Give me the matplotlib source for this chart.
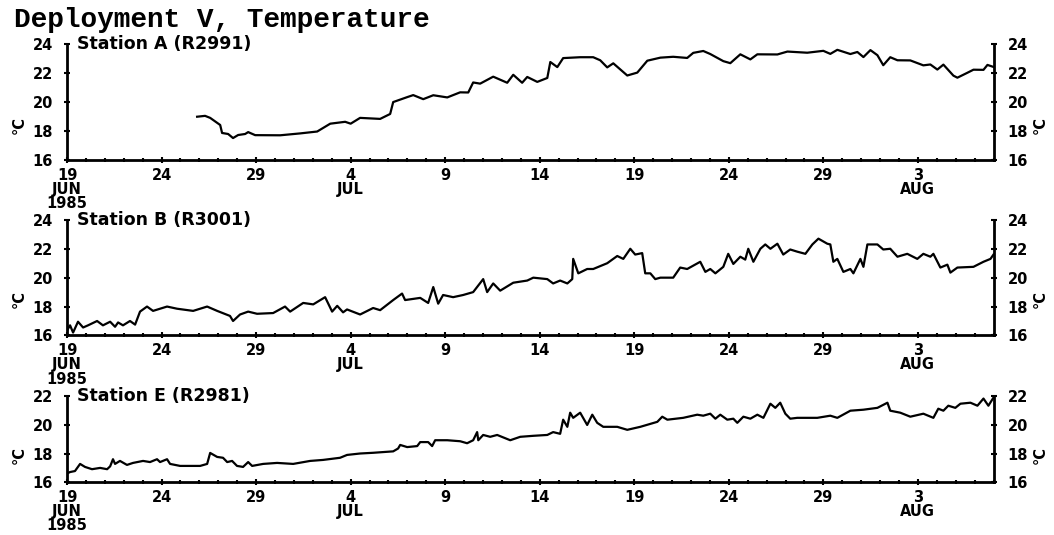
import matplotlib.pyplot as plt
from matplotlib.ticker import MultipleLocator

# days since 19 JUN 1985
days_a = [6.88, 7.30, 7.57, 8.10, 8.20, 8.52, 8.78, 9.05, 9.42, 9.58, 9.95, 11.27, 12.33, 13.23,
          13.92, 14.71, 15.00, 15.50, 16.56, 17.09, 17.25, 17.99, 18.31, 18.84, 19.37, 20.11,
          20.79, 21.22, 21.48, 21.85, 22.54, 23.28, 23.60, 24.07, 24.34, 24.87, 25.40, 25.56,
          25.93, 26.24, 27.14, 27.83, 28.20, 28.57, 28.89, 29.63, 30.16, 30.69, 31.38, 32.06,
          32.80, 33.12, 33.65, 34.02, 34.71, 35.08, 35.61, 36.14, 36.51, 37.57, 38.10, 39.15,
          40.00, 40.37, 40.74, 41.43, 41.80, 42.12, 42.49, 42.86, 43.17, 43.54, 43.92, 44.60,
          45.29, 45.66, 46.03, 46.35, 46.88, 47.09, 47.62, 47.94, 48.47, 48.68, 49.0]
temp_a = [18.98, 19.04, 18.90, 18.41, 17.86, 17.79, 17.51, 17.72, 17.79, 17.92, 17.71, 17.70, 17.83, 17.96,
          18.50, 18.63, 18.50, 18.90, 18.83, 19.17, 19.99, 20.33, 20.47, 20.19, 20.46, 20.31,
          20.66, 20.65, 21.34, 21.26, 21.74, 21.32, 21.87, 21.32, 21.72, 21.38, 21.65, 22.75,
          22.40, 23.02, 23.08, 23.08, 22.87, 22.38, 22.66, 21.82, 22.02, 22.84, 23.05, 23.11,
          23.03, 23.38, 23.51, 23.30, 22.81, 22.67, 23.28, 22.93, 23.28, 23.27, 23.47, 23.39,
          23.52, 23.31, 23.59, 23.30, 23.44, 23.09, 23.57, 23.22, 22.53, 23.08, 22.87, 22.86,
          22.52, 22.58, 22.23, 22.57, 21.81, 21.67, 22.01, 22.22, 22.21, 22.55, 22.41]

days_b = [0.0, 0.16, 0.32, 0.58, 0.85, 1.11, 1.59, 1.90, 2.28, 2.54, 2.70, 2.96, 3.33, 3.60, 3.86,
          4.23, 4.55, 5.29, 5.82, 6.67, 7.41, 7.94, 8.62, 8.78, 9.15, 9.58, 10.05, 10.90, 11.53,
          11.80, 12.49, 13.02, 13.65, 14.02, 14.29, 14.60, 14.81, 15.50, 16.19, 16.56, 17.25,
          17.72, 17.88, 18.68, 19.10, 19.37, 19.63, 19.89, 20.42, 20.95, 21.48, 22.01, 22.22,
          22.54, 22.91, 23.60, 24.34, 24.66, 25.40, 25.71, 26.08, 26.46, 26.72, 26.77, 27.04,
          27.51, 27.83, 28.57, 29.10, 29.42, 29.79, 30.05, 30.42, 30.58, 30.85, 31.11, 31.38,
          32.06, 32.43, 32.80, 33.49, 33.76, 34.02, 34.29, 34.71, 34.97, 35.24, 35.61, 35.87,
          36.03, 36.30, 36.67, 36.93, 37.20, 37.57, 37.88, 38.25, 38.62, 39.05, 39.42, 39.74,
          40.21, 40.37, 40.53, 40.74, 41.06, 41.43, 41.59, 41.96, 42.12, 42.33, 42.86, 43.17,
          43.54, 43.92, 44.44, 44.97, 45.29, 45.66, 45.82, 46.19, 46.56, 46.72, 47.09, 47.94,
          48.47, 48.84, 49.0]
temp_b = [16.34, 16.7, 16.2, 16.95, 16.55, 16.7, 17.0, 16.7, 16.95, 16.6, 16.9, 16.7, 17.0, 16.75, 17.65,
          18.0, 17.7, 18.0, 17.85, 17.7, 18.0, 17.7, 17.35, 17.0, 17.45, 17.65, 17.5, 17.55, 18.0,
          17.65, 18.25, 18.15, 18.65, 17.65, 18.05, 17.6, 17.8, 17.45, 17.9, 17.75, 18.45,
          18.9, 18.45, 18.6, 18.25, 19.35, 18.2, 18.8, 18.65, 18.8, 19.0, 19.9, 19.0,
          19.6, 19.1, 19.65, 19.8, 20.0, 19.9, 19.6, 19.8, 19.6, 19.9, 21.3, 20.3,
          20.6, 20.6, 21.0, 21.5, 21.3, 22.0, 21.6, 21.7, 20.3, 20.3, 19.9, 20.0,
          20.0, 20.7, 20.6, 21.1, 20.4, 20.6, 20.3, 20.75, 21.65, 20.95, 21.45, 21.25,
          22.0, 21.1, 22.0, 22.3, 22.0, 22.35, 21.6, 21.95, 21.8, 21.65, 22.3, 22.7,
          22.35, 22.3, 21.1, 21.3, 20.4, 20.6, 20.3, 21.3, 20.75, 22.3, 22.3, 21.95,
          22.0, 21.45, 21.65, 21.3, 21.65, 21.45, 21.65, 20.7, 20.9, 20.35, 20.7, 20.75,
          21.1, 21.3, 21.6]

days_e = [0.0, 0.16, 0.42, 0.69, 0.95, 1.32, 1.75, 2.12, 2.28, 2.43, 2.54, 2.80, 3.17, 3.49, 4.02,
          4.39, 4.76, 4.92, 5.29, 5.45, 5.98, 7.04, 7.41, 7.57, 7.94, 8.25, 8.47, 8.73, 8.99,
          9.31, 9.58, 9.79, 10.37, 11.11, 11.96, 12.86, 13.54, 14.44, 14.81, 15.50, 16.19,
          17.25, 17.51, 17.62, 17.99, 18.52, 18.68, 19.10, 19.31, 19.47, 20.11, 20.79, 21.16,
          21.48, 21.69, 21.75, 22.01, 22.38, 22.75, 23.44, 23.97, 24.66, 25.40, 25.71, 26.08,
          26.24, 26.46, 26.61, 26.77, 27.14, 27.51, 27.78, 28.04, 28.36, 29.10, 29.63, 30.32,
          31.22, 31.48, 31.75, 32.59, 33.33, 33.65, 34.02, 34.29, 34.55, 34.92, 35.24, 35.45,
          35.77, 36.14, 36.51, 36.83, 37.20, 37.46, 37.72, 37.99, 38.25, 38.62, 39.68, 40.37,
          40.74, 41.43, 42.12, 42.86, 43.39, 43.54, 44.07, 44.60, 45.29, 45.82, 46.08, 46.35,
          46.61, 46.98, 47.25, 47.78, 48.15, 48.47, 48.73, 49.0]
temp_e = [16.6, 16.7, 16.77, 17.27, 17.06, 16.9, 16.99, 16.9, 17.1, 17.6, 17.27, 17.48, 17.2, 17.34, 17.48,
          17.4, 17.6, 17.4, 17.6, 17.27, 17.13, 17.13, 17.27, 18.04, 17.76, 17.7, 17.4, 17.48, 17.13,
          17.06, 17.4, 17.13, 17.27, 17.34, 17.27, 17.48, 17.55, 17.7, 17.9, 18.0, 18.05,
          18.15, 18.35, 18.6, 18.45, 18.52, 18.8, 18.8, 18.52, 18.93, 18.93, 18.86, 18.72,
          18.93, 19.5, 18.93, 19.3, 19.17, 19.3, 18.93, 19.17, 19.24, 19.3, 19.5, 19.38,
          20.37, 19.87, 20.86, 20.5, 20.86, 20.0, 20.72, 20.15, 19.87, 19.87, 19.66, 19.87,
          20.22, 20.58, 20.37, 20.5, 20.72, 20.65, 20.79, 20.44, 20.72, 20.37, 20.44, 20.15,
          20.58, 20.44, 20.72, 20.5, 21.49, 21.2, 21.56, 20.79, 20.44, 20.5, 20.5, 20.65,
          20.5, 21.0, 21.07, 21.2, 21.56, 21.0, 20.86, 20.58, 20.79, 20.5, 21.14, 21.0,
          21.35, 21.2, 21.49, 21.56, 21.35, 21.85, 21.35, 21.92]

tick_days = [0, 5, 10, 15, 20, 25, 30, 35, 40, 45]
tick_labels = ['19\nJUN\n1985', '24', '29', '4\nJUL', '9', '14', '19', '24', '29', '3\nAUG']

stations = ['Station A (R2991)', 'Station B (R3001)', 'Station E (R2981)']
ylims = [(16, 24), (16, 24), (16, 22)]
# left, bottom, width, height in figure fraction
boxes = [[0.0636, 0.701, 0.879, 0.217],
         [0.0636, 0.373, 0.879, 0.216],
         [0.0636, 0.099, 0.879, 0.160]]
unit_y = [18.4, 18.5, 17.9]

fig = plt.figure(figsize=(10.54, 5.35), dpi=100)
fig.text(0.013, 0.962, 'Deployment V, Temperature', family='Liberation Mono',
         fontweight='bold', fontsize=20, va='center', ha='left')

series = [(days_a, temp_a), (days_b, temp_b), (days_e, temp_e)]
for i in range(3):
    ax = fig.add_axes(boxes[i])
    x, y = series[i]
    ax.plot(x, y, color='black', lw=1.6)
    ax.set_xlim(0, 49)
    ax.set_ylim(*ylims[i])
    ax.set_yticks(range(ylims[i][0], ylims[i][1] + 1, 2))
    ax.set_xticks(tick_days)
    ax.set_xticklabels(tick_labels, linespacing=0.95)
    ax.xaxis.set_minor_locator(MultipleLocator(1))
    for s in ['left', 'right', 'bottom']:
        ax.spines[s].set_linewidth(2)
    ax.spines['top'].set_visible(False)
    ax.tick_params(axis='x', which='major', direction='inout', length=5, width=1.5, pad=3)
    ax.tick_params(axis='x', which='minor', direction='inout', length=3, width=1.5)
    ax.tick_params(axis='y', which='major', direction='inout', length=4, width=1.5,
                   right=True, labelright=True, pad=8)
    for lab in ax.get_xticklabels() + ax.get_yticklabels():
        lab.set_fontweight('bold')
        lab.set_fontsize(10.5)
    ax.text(0.011, 1.0, stations[i], transform=ax.transAxes, fontsize=12.5,
            fontweight='bold', va='center', ha='left')
    trans = ax.get_yaxis_transform()
    ax.text(-0.052, unit_y[i], '°C', transform=trans, rotation=90, fontsize=10.5,
            fontweight='bold', va='center', ha='center')
    ax.text(1.05, unit_y[i], '°C', transform=trans, rotation=90, fontsize=10.5,
            fontweight='bold', va='center', ha='center')

fig.savefig('out.png', dpi=100)
